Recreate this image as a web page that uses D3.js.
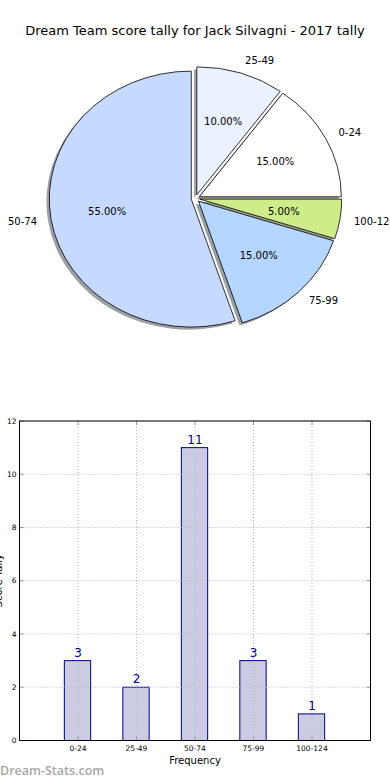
<!DOCTYPE html>
<html>
<head>
<meta charset="utf-8">
<script src="https://cdn.jsdelivr.net/npm/d3@7"></script>
<style>
  body { margin: 0; background: #fff; }
  svg text { font-family: "DejaVu Sans", sans-serif; }
</style>
</head>
<body>
<div id="Chart"></div>
<script>
// data
var categories = ["0-24", "25-49", "50-74", "75-99", "100-124"];
var tallies = [3, 2, 11, 3, 1];
var sliceColors = ["#ffffff", "#eaf1ff", "#c6daff", "#b4d6ff", "#cfec8a"];
var yTicks = [0, 2, 4, 6, 8, 10, 12];

var width = 390, height = 780;
var svg = d3.select("#Chart").append("svg")
    .attr("width", width)
    .attr("height", height);

svg.append("text")
    .attr("x", 195).attr("y", 35)
    .attr("text-anchor", "middle")
    .attr("font-size", 13)
    .text("Dream Team score tally for Jack Silvagni - 2017 tally");

// ---- pie (matplotlib style: counter clockwise from 3 o'clock, exploded, shadow)
var cx = 195.5, cy = 198.5, rx = 142, ry = 128, explode = 0.03;
var total = d3.sum(tallies);

var pie = d3.pie().sort(null)
    .startAngle(Math.PI / 2)
    .endAngle(Math.PI / 2 - 2 * Math.PI);
var arcs = pie(tallies);
var arc = d3.arc().innerRadius(0).outerRadius(1);

arcs.forEach(function(d){
    var mid = Math.PI / 2 - (d.startAngle + d.endAngle) / 2; // math angle
    d.mid = mid;
    d.ox = cx + explode * rx * Math.cos(mid);
    d.oy = cy - explode * ry * Math.sin(mid);
});

var pieG = svg.append("g");

// shadows first (0.3 * face colour, half transparent)
pieG.selectAll(".shadow")
    .data(arcs)
    .enter().append("path")
    .attr("class", "shadow")
    .attr("d", arc)
    .attr("transform", d => "translate(" + (d.ox - 0.02 * rx) + "," + (d.oy + 0.02 * ry) + ") scale(" + rx + "," + ry + ")")
    .attr("fill", function(d, i){
        var c = d3.rgb(sliceColors[i]);
        return d3.rgb(c.r * 0.3, c.g * 0.3, c.b * 0.3);
    })
    .attr("fill-opacity", 0.5);

pieG.selectAll(".slice")
    .data(arcs)
    .enter().append("path")
    .attr("class", "slice")
    .attr("d", arc)
    .attr("transform", d => "translate(" + d.ox + "," + d.oy + ") scale(" + rx + "," + ry + ")")
    .attr("fill", (d, i) => sliceColors[i])
    .attr("stroke", "#000")
    .attr("stroke-width", 0.8)
    .attr("vector-effect", "non-scaling-stroke");

pieG.selectAll(".plabel")
    .data(arcs)
    .enter().append("text")
    .attr("x", d => d.ox + 1.1 * rx * Math.cos(d.mid))
    .attr("y", d => d.oy - 1.1 * ry * Math.sin(d.mid))
    .attr("dy", "0.35em")
    .attr("text-anchor", d => Math.cos(d.mid) > 0 ? "start" : "end")
    .attr("font-size", 10)
    .text((d, i) => categories[i]);

pieG.selectAll(".pct")
    .data(arcs)
    .enter().append("text")
    .attr("x", d => d.ox + 0.6 * rx * Math.cos(d.mid))
    .attr("y", d => d.oy - 0.6 * ry * Math.sin(d.mid))
    .attr("dy", "0.35em")
    .attr("text-anchor", "middle")
    .attr("font-size", 10)
    .text(d => (100 * d.value / total).toFixed(2) + "%");

// ---- bar chart
var axL = 19.5, axR = 370.5, axT = 421, axB = 740.5;
var x = d3.scaleLinear().domain([-1, 5]).range([axL, axR]);
var y = d3.scaleLinear().domain([0, 12]).range([axB, axT]);
var barW = 0.45;

var g = svg.append("g");

g.selectAll(".bar")
    .data(tallies)
    .enter().append("rect")
    .attr("class", "bar")
    .attr("x", (d, i) => x(i - barW / 2) - 0.5)
    .attr("width", x(barW) - x(0))
    .attr("y", d => y(d))
    .attr("height", d => y(0) - y(d))
    .attr("fill", "#cbcce3")
    .attr("stroke", "#00008b")
    .attr("stroke-width", 1);

// grid on top of bars
g.selectAll(".hgrid")
    .data(yTicks)
    .enter().append("line")
    .attr("x1", axL).attr("x2", axR)
    .attr("y1", d => y(d)).attr("y2", d => y(d))
    .attr("stroke", "#b8b8b8")
    .attr("stroke-dasharray", "1,2");

g.selectAll(".vgrid")
    .data(categories)
    .enter().append("line")
    .attr("x1", (d, i) => x(i)).attr("x2", (d, i) => x(i))
    .attr("y1", axT).attr("y2", axB)
    .attr("stroke", "#b8b8b8")
    .attr("stroke-dasharray", "1,2");

// inward ticks
yTicks.forEach(function(t){
    g.append("line").attr("x1", axL).attr("x2", axL + 4).attr("y1", y(t)).attr("y2", y(t)).attr("stroke", "#999");
    g.append("line").attr("x1", axR - 4).attr("x2", axR).attr("y1", y(t)).attr("y2", y(t)).attr("stroke", "#999");
});
categories.forEach(function(c, i){
    g.append("line").attr("x1", x(i)).attr("x2", x(i)).attr("y1", axB).attr("y2", axB - 4).attr("stroke", "#999");
    g.append("line").attr("x1", x(i)).attr("x2", x(i)).attr("y1", axT).attr("y2", axT + 4).attr("stroke", "#999");
});

g.append("rect")
    .attr("x", axL).attr("y", axT)
    .attr("width", axR - axL).attr("height", axB - axT)
    .attr("fill", "none")
    .attr("stroke", "#000")
    .attr("stroke-width", 1);

g.selectAll(".val")
    .data(tallies)
    .enter().append("text")
    .attr("x", (d, i) => x(i))
    .attr("y", d => y(d) - 4)
    .attr("text-anchor", "middle")
    .attr("font-size", 12)
    .attr("fill", "#00008b")
    .text(d => d);

g.selectAll(".ytl")
    .data(yTicks)
    .enter().append("text")
    .attr("x", axL - 3)
    .attr("y", d => y(d))
    .attr("dy", "0.35em")
    .attr("text-anchor", "end")
    .attr("font-size", 7.5)
    .text(d => d);

g.selectAll(".xtl")
    .data(categories)
    .enter().append("text")
    .attr("x", (d, i) => x(i))
    .attr("y", axB + 10)
    .attr("text-anchor", "middle")
    .attr("font-size", 7.5)
    .text(d => d);

svg.append("text")
    .attr("x", (axL + axR) / 2).attr("y", 764)
    .attr("text-anchor", "middle")
    .attr("font-size", 10)
    .text("Frequency");

// y label sits mostly outside the figure, as in the original
svg.append("text")
    .attr("transform", "translate(1.5," + ((axT + axB) / 2) + ") rotate(-90)")
    .attr("text-anchor", "middle")
    .attr("font-size", 10)
    .text("Score Tally");

svg.append("text")
    .attr("x", 0).attr("y", 774.5)
    .attr("font-size", 12.5)
    .attr("font-weight", 600)
    .style("font-family", "'Open Sans', sans-serif")
    .attr("fill", "#a6a6a6")
    .text("Dream-Stats.com");
</script>
</body>
</html>
